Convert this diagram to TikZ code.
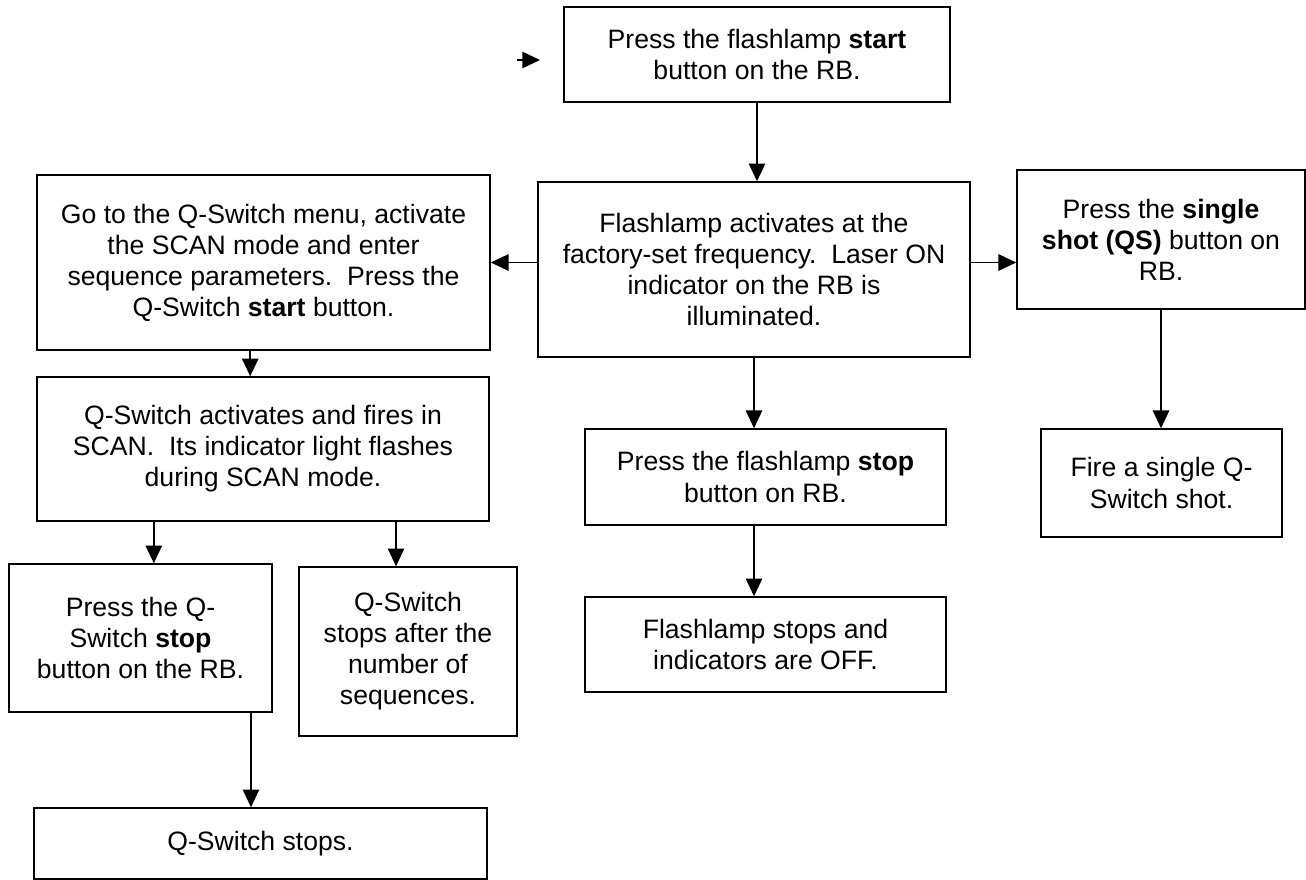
\documentclass[tikz,border=0pt]{standalone}
\usepackage{fontspec}
\setmainfont{Liberation Sans}
\usepackage{tikz}
\usetikzlibrary{arrows.meta,positioning,calc}
\tikzset{
  pbox/.style={draw,line width=0.7pt,align=center,inner sep=2pt,
    font=\fontsize{12}{14}\selectfont},
  pflow/.style={-{Triangle[length=8pt,width=7.4pt]},line width=0.7pt},
}

\begin{document}
\begin{tikzpicture}[x=0.451pt,y=-0.451pt]
\useasboundingbox (0,0) rectangle (1306,880);
% main column
\node[pbox,minimum width=174.1pt,minimum height=42.8pt] (start) at (757,54.5)
  {Press the flashlamp \textbf{start}\\ button on the RB.};
\node[pbox,minimum width=194.8pt,minimum height=78.9pt] (flash) at (754,269.5)
  {Flashlamp activates at the\\ factory-set frequency.\ \ Laser ON\\ indicator on the RB is\\ illuminated.};
\node[pbox,minimum width=162.8pt,minimum height=43.3pt] (fstop) at (765.5,477)
  {Press the flashlamp \textbf{stop}\\ button on RB.};
\node[pbox,minimum width=162.8pt,minimum height=42.8pt] (foff) at (765.5,644.5)
  {Flashlamp stops and\\ indicators are OFF.};
% single shot branch
\node[pbox,minimum width=129.9pt,minimum height=62.7pt] (single) at (1161,239.5)
  {Press the \textbf{single}\\ \textbf{shot (QS)} button on\\ RB.};
\node[pbox,minimum width=108.7pt,minimum height=48.7pt] (fire) at (1161.5,483)
  {Fire a single Q-\\ Switch shot.};
% scan branch
\node[pbox,minimum width=204.3pt,minimum height=78.9pt] (scan) at (263.5,262.5)
  {Go to the Q-Switch menu, activate\\ the SCAN mode and enter\\ sequence parameters.\ \ Press the\\ Q-Switch \textbf{start} button.};
\node[pbox,minimum width=203.9pt,minimum height=64.9pt] (qsw) at (263,449)
  {Q-Switch activates and fires in\\ SCAN.\ \ Its indicator light flashes\\ during SCAN mode.};
\node[pbox,minimum width=118.6pt,minimum height=66.7pt] (qstop) at (140.5,638)
  {Press the Q-\\ Switch \textbf{stop}\\ button on the RB.};
\node[pbox,minimum width=98.3pt,minimum height=76.2pt] (seqs) at (408,651.5)
  {Q-Switch\\ stops after the\\ number of\\ sequences.};
\node[pbox,minimum width=204.3pt,minimum height=32pt] (qend) at (260.5,843.5)
  {Q-Switch stops.};
% arrows
\coordinate (in0) at (517,60);
\coordinate (in1) at (540,60);
\draw[pflow] (in0) -- (in1);
\draw[pflow] (start.south) -- (start.south |- flash.north);
\draw[pflow] (flash.west |- scan.east) -- (scan.east);
\draw[pflow] (flash.east |- scan.east) -- (single.west |- scan.east);
\draw[pflow] (single.south) -- (single.south |- fire.north);
\draw[pflow] (flash.south) -- (flash.south |- fstop.north);
\draw[pflow] (flash.south |- fstop.south) -- (flash.south |- foff.north);
\draw[pflow] ([xshift=-6pt]scan.south) -- ([xshift=-6pt]scan.south |- qsw.north);
\draw[pflow] ([xshift=6pt]qstop.north |- qsw.south) -- ([xshift=6pt]qstop.north);
\draw[pflow] ([xshift=-5.4pt]seqs.north |- qsw.south) -- ([xshift=-5.4pt]seqs.north);
\draw[pflow] ([xshift=-4.3pt]qend.north |- qstop.south) -- ([xshift=-4.3pt]qend.north);
\end{tikzpicture}
\end{document}
